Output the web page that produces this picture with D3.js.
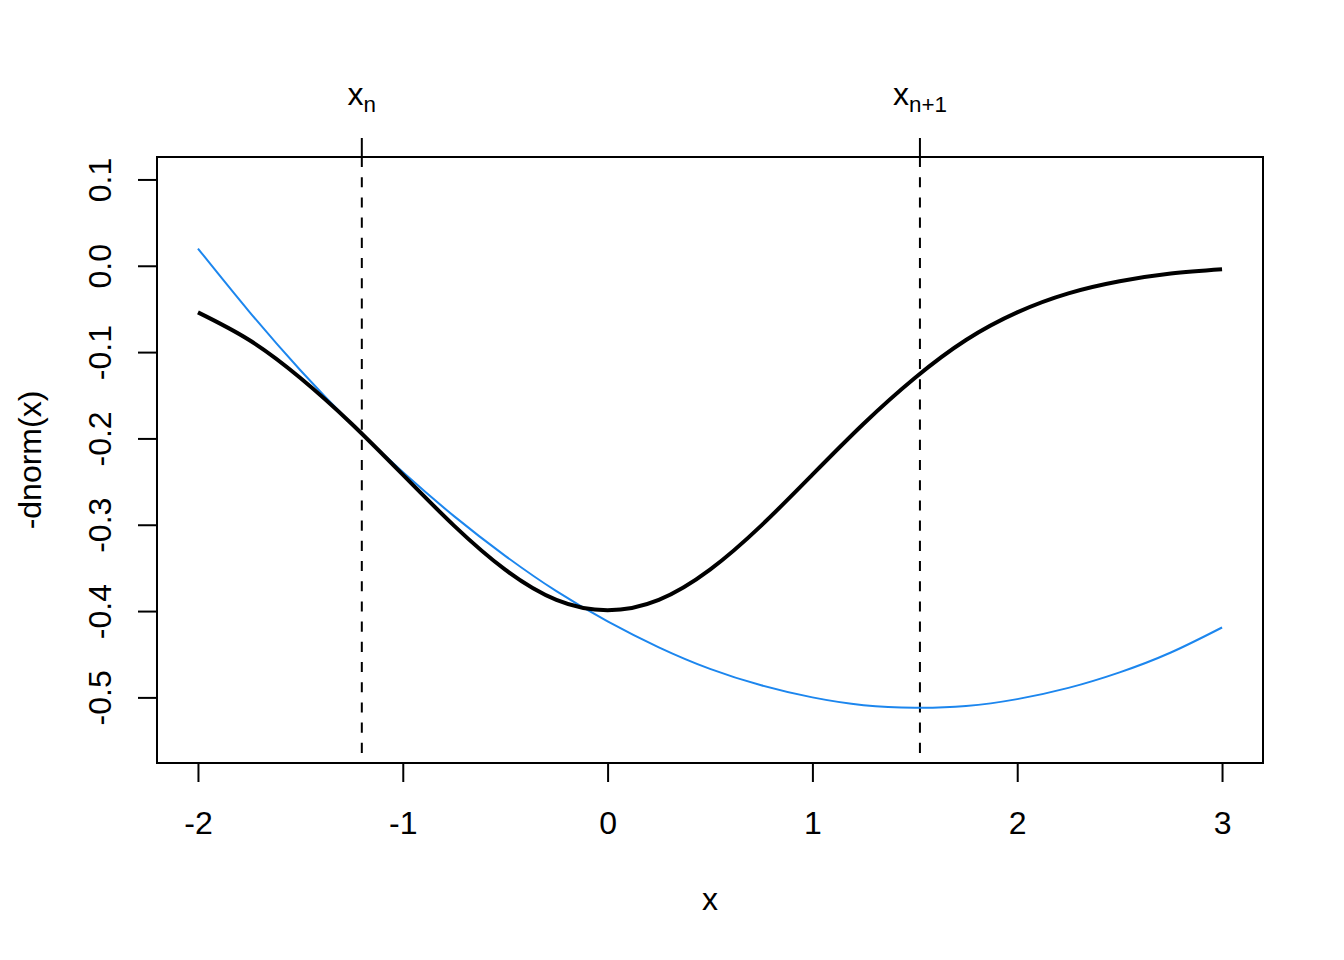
<!DOCTYPE html>
<html>
<head>
<meta charset="utf-8">
<script src="https://cdn.jsdelivr.net/npm/d3@7"></script>
<style>
  body { margin: 0; background: #fff; }
  text { font-family: "Liberation Sans", Arial, Helvetica, sans-serif; }
</style>
</head>
<body>
<script>
// canvas and plot box magic numbers
var w = 1344;
var h = 960;
var boxLeft = 157, boxRight = 1263, boxTop = 157, boxBottom = 763;
var fontSize = 32;
var tickLen = 19;

// data
var xs = [-2, -1.75, -1.5, -1.25, -1, -0.75, -0.5, -0.25, 0, 0.25, 0.5, 0.75,
          1, 1.25, 1.5, 1.75, 2, 2.25, 2.5, 2.75, 3];
// black curve: -dnorm(x)
var curveVals = [-0.054, -0.086, -0.130, -0.183, -0.242, -0.301, -0.352, -0.387,
                 -0.399, -0.387, -0.352, -0.301, -0.242, -0.183, -0.130, -0.086,
                 -0.054, -0.032, -0.018, -0.009, -0.004];
// blue curve: quadratic approximation at x_n
var quadVals = [0.020, -0.053, -0.121, -0.183, -0.239, -0.290, -0.336, -0.377,
                -0.412, -0.442, -0.467, -0.486, -0.500, -0.509, -0.512, -0.510,
                -0.502, -0.489, -0.471, -0.448, -0.419];
// vertical markers
var markerX = [-1.2, 1.525];
var markerSub = ["n", "n+1"];
// ticks
var xTicks = [-2, -1, 0, 1, 2, 3];
var yTicks = [-0.5, -0.4, -0.3, -0.2, -0.1, 0.0, 0.1];

var xScale = d3.scaleLinear().domain([-2.2, 3.2]).range([boxLeft, boxRight]);
var yScale = d3.scaleLinear().domain([-0.576, 0.126]).range([boxBottom, boxTop]);

var svg = d3.select("body")
            .append("svg")
            .attr("width", w)
            .attr("height", h);

// bottom axis
var xAxis = svg.append("g")
    .attr("transform", "translate(0," + boxBottom + ")")
    .call(d3.axisBottom(xScale).tickValues(xTicks).tickSize(tickLen).tickPadding(0)
          .tickFormat(d3.format("d")));
xAxis.select(".domain").remove();
xAxis.selectAll("line").attr("stroke", "#000").attr("stroke-width", 2);
xAxis.selectAll("text")
    .attr("font-size", fontSize)
    .attr("fill", "#000")
    .attr("dy", null)
    .attr("y", 834 - boxBottom)
    .text(function(d) { return d < 0 ? "-" + Math.abs(d) : d; });

// left axis, rotated labels
var yAxis = svg.append("g")
    .attr("transform", "translate(" + boxLeft + ",0)")
    .call(d3.axisLeft(yScale).tickValues(yTicks).tickSize(tickLen).tickFormat(d3.format(".1f")));
yAxis.select(".domain").remove();
yAxis.selectAll("line").attr("stroke", "#000").attr("stroke-width", 2);
yAxis.selectAll("text")
    .attr("font-size", fontSize)
    .attr("fill", "#000")
    .attr("x", null)
    .attr("dy", null)
    .attr("text-anchor", "middle")
    .attr("transform", "translate(" + (111 - boxLeft) + ",0) rotate(-90)")
    .text(function(d) { return d < 0 ? "-" + Math.abs(d).toFixed(1) : d.toFixed(1); });

// top ticks at the markers
svg.selectAll("line.topTick")
    .data(markerX)
    .enter().append("line")
    .attr("class", "topTick")
    .attr("x1", function(d) { return xScale(d); })
    .attr("x2", function(d) { return xScale(d); })
    .attr("y1", boxTop - tickLen)
    .attr("y2", boxTop)
    .attr("stroke", "#000")
    .attr("stroke-width", 2);

var topLabels = svg.selectAll("text.topLabel")
    .data(markerX)
    .enter().append("text")
    .attr("class", "topLabel")
    .attr("x", function(d) { return xScale(d); })
    .attr("y", 105)
    .attr("text-anchor", "middle")
    .attr("font-size", fontSize);
topLabels.append("tspan").text("x");
topLabels.append("tspan")
    .attr("font-size", fontSize * 0.7)
    .attr("dy", 7)
    .text(function(d, i) { return markerSub[i]; });

// dashed vertical lines
svg.selectAll("line.marker")
    .data(markerX)
    .enter().append("line")
    .attr("class", "marker")
    .attr("x1", function(d) { return xScale(d); })
    .attr("x2", function(d) { return xScale(d); })
    .attr("y1", boxTop)
    .attr("y2", boxBottom)
    .attr("stroke", "#000")
    .attr("stroke-width", 2)
    .attr("stroke-dasharray", "10.1,10.1");

var line = d3.line()
    .x(function(d) { return xScale(d[0]); })
    .y(function(d) { return yScale(d[1]); })
    .curve(d3.curveNatural);

// blue quadratic
svg.append("path")
    .datum(xs.map(function(x, i) { return [x, quadVals[i]]; }))
    .attr("d", line)
    .attr("fill", "none")
    .attr("stroke", "#1C86EE")
    .attr("stroke-width", 2);

// black -dnorm curve
svg.append("path")
    .datum(xs.map(function(x, i) { return [x, curveVals[i]]; }))
    .attr("d", line)
    .attr("fill", "none")
    .attr("stroke", "#000")
    .attr("stroke-width", 4);

// plot box
svg.append("rect")
    .attr("x", boxLeft)
    .attr("y", boxTop)
    .attr("width", boxRight - boxLeft)
    .attr("height", boxBottom - boxTop)
    .attr("fill", "none")
    .attr("stroke", "#000")
    .attr("stroke-width", 2);

// axis titles
svg.append("text")
    .attr("x", (boxLeft + boxRight) / 2)
    .attr("y", 910)
    .attr("text-anchor", "middle")
    .attr("font-size", fontSize)
    .text("x");

svg.append("text")
    .attr("transform", "translate(41," + ((boxTop + boxBottom) / 2) + ") rotate(-90)")
    .attr("text-anchor", "middle")
    .attr("font-size", fontSize)
    .text("-dnorm(x)");
</script>
</body>
</html>
